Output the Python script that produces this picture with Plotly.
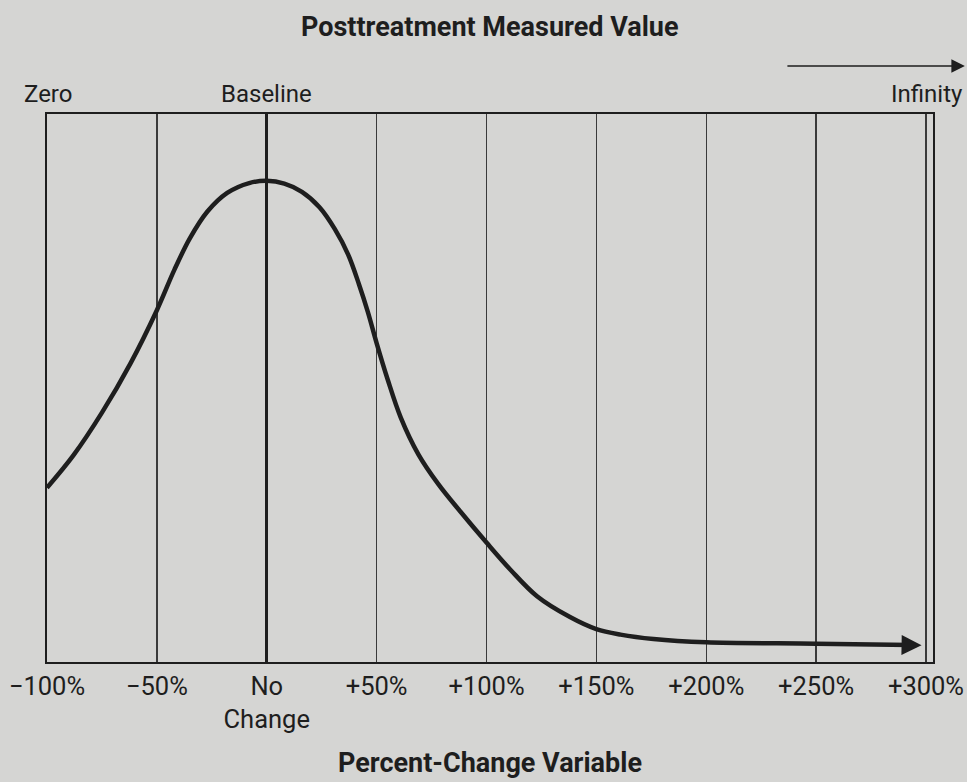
import plotly.graph_objects as go

# Percent change (x) and relative frequency height (y)
pct_change = [-100, -88, -75, -62, -50, -42, -35, -27, -18, -8, 0,
              8, 16, 24, 31, 37, 42, 46, 50, 55, 61, 69, 78, 88, 100,
              111, 123, 138, 150, 161, 176, 200, 250, 293]
frequency = [31.8, 37.7, 45.5, 54.5, 64.2, 71.6, 77.3, 82.2, 85.6, 87.4, 87.8,
             87.3, 85.8, 83.0, 79.0, 74.4, 68.9, 63.9, 58.2, 51.6, 44.6, 37.9, 32.5,
             27.5, 21.8, 16.8, 12.0, 8.2, 6.0, 5.0, 4.2, 3.6, 3.35, 3.1]

tick_vals = [-100, -50, 0, 50, 100, 150, 200, 250, 300]
tick_text = ["\u2212100%", "\u221250%", "No<br>Change", "+50%", "+100%", "+150%",
             "+200%", "+250%", "+300%"]

BG = "#d5d5d3"
INK = "#1e1e1e"
FONT = "Roboto, Liberation Sans, sans-serif"

fig = go.Figure()
fig.add_trace(go.Scatter(
    x=pct_change, y=frequency, mode="lines",
    line=dict(color=INK, width=4.5, shape="spline", smoothing=1.0),
    hoverinfo="skip", showlegend=False,
))

# arrow head at the end of the curve
fig.add_annotation(
    x=pct_change[-1] + 5, y=frequency[-1] - 0.05,
    ax=pct_change[-1] - 3, ay=frequency[-1],
    xref="x", yref="y", axref="x", ayref="y",
    showarrow=True, arrowhead=2, arrowsize=1.0, arrowwidth=4, arrowcolor=INK,
    text="",
)

# top arrow toward "Infinity"
fig.add_annotation(
    x=1.036, y=1.0876, xref="paper", yref="paper",
    ax=-179, ay=0, axref="pixel", ayref="pixel",
    showarrow=True, arrowhead=2, arrowsize=1.8, arrowwidth=1.5, arrowcolor=INK,
    text="",
)

label_font = dict(family=FONT, size=24, color=INK)
label_y = (662 - 94) / 548
fig.add_annotation(x=-0.0282, y=label_y, xref="paper", yref="paper", text="Zero",
                   showarrow=False, xanchor="left", yanchor="middle", font=label_font)
fig.add_annotation(x=0, y=label_y, xref="x", yref="paper", text="Baseline",
                   showarrow=False, xanchor="center", yanchor="middle", font=label_font)
fig.add_annotation(x=1.036, y=label_y, xref="paper", yref="paper", text="Infinity",
                   showarrow=False, xanchor="right", yanchor="middle", font=label_font)

title_font = dict(family=FONT, size=27, color=INK)
fig.add_annotation(x=0.5, y=(662 - 27) / 548, xref="paper", yref="paper",
                   text="<b>Posttreatment Measured Value</b>",
                   showarrow=False, font=title_font, yanchor="middle")
fig.add_annotation(x=0.5, y=(662 - 763) / 548, xref="paper", yref="paper",
                   text="<b>Percent-Change Variable</b>",
                   showarrow=False, font=title_font, yanchor="middle", borderpad=0)

fig.update_layout(
    width=967, height=782,
    margin=dict(l=47, r=34, t=114, b=120, autoexpand=False),
    paper_bgcolor=BG, plot_bgcolor=BG,
    font=dict(family=FONT, color=INK),
)

fig.update_xaxes(
    range=[-100, 303.2], tickvals=tick_vals, ticktext=tick_text,
    showgrid=True, gridcolor="#3a3a3a", gridwidth=1.4,
    zeroline=True, zerolinecolor=INK, zerolinewidth=3.5,
    showline=True, linecolor=INK, linewidth=2.2, mirror=True,
    ticks="", tickfont=dict(family=FONT, size=25.5, color=INK),
    automargin=False, fixedrange=True,
)
fig.update_yaxes(
    range=[0, 100], showgrid=False, zeroline=False, showticklabels=False,
    showline=True, linecolor=INK, linewidth=2.2, mirror=True, ticks="",
    automargin=False, fixedrange=True,
)

fig.write_html(
    "out.html",
    config={"displayModeBar": False, "staticPlot": True},
    post_script="document.body.style.margin='0';document.body.style.overflow='hidden';",
)
